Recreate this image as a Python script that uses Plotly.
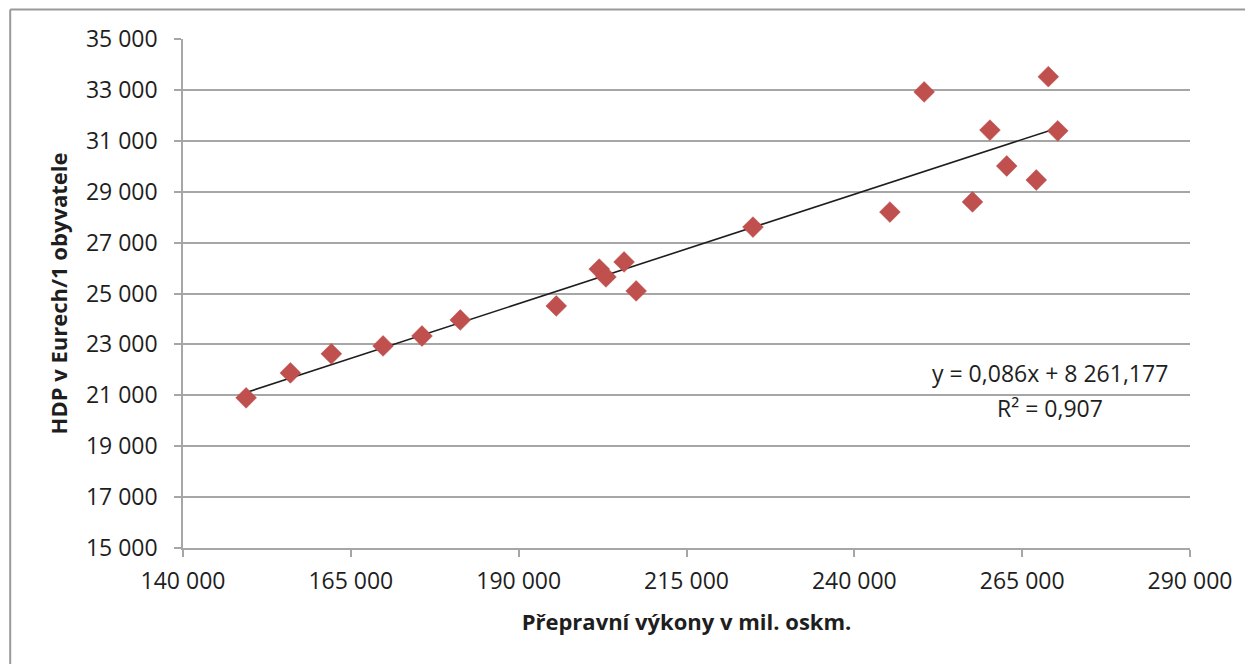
import numpy as np
import plotly.graph_objects as go

# transport performance (mil. oskm) vs GDP per capita
vykony = [149400, 156000, 162100, 169800, 175600, 181300, 195600, 202000, 203000,
          205700, 207500, 224900, 245300, 250400, 257600, 260200, 262700, 267100,
          268900, 270300]
hdp = [20900, 21880, 22630, 22940, 23330, 23960, 24510, 25960, 25650,
       26240, 25100, 27610, 28200, 32920, 28600, 31420, 30010, 29460,
       33520, 31390]

# linear trend from the chart label
slope = 0.086
intercept = 8261.177
r2 = 0.907

x_ticks = [140000, 165000, 190000, 215000, 240000, 265000, 290000]
y_ticks = [15000, 17000, 19000, 21000, 23000, 25000, 27000, 29000, 31000, 33000, 35000]

FONT = 'Open Sans'
GRID = '#A6A6A6'
FS = 23

trend_x = np.array([min(vykony), max(vykony)])
trend_y = slope * trend_x + intercept

fig = go.Figure()
fig.add_trace(go.Scatter(
    x=trend_x, y=trend_y, mode='lines',
    line=dict(color='#1E1E1E', width=1.6),
    showlegend=False, hoverinfo='skip'
))
fig.add_trace(go.Scatter(
    x=vykony, y=hdp, mode='markers',
    marker=dict(symbol='diamond', size=16, color='#C0504D',
                line=dict(color='#B8474A', width=0.5)),
    showlegend=False
))

# page has an 8px body margin, so the figure is shifted by 8px
fig.update_layout(
    width=1245, height=656,
    margin=dict(l=174.5, r=62.5, t=31, b=116),
    plot_bgcolor='#FFFFFF',
    paper_bgcolor='#FFFFFF',
    separators=', ',
    font=dict(family=FONT, size=FS, color='#1E1E1E'),
)
fig.update_xaxes(
    range=[140000, 290000], tickvals=x_ticks, tickformat=',.0f',
    showgrid=False, zeroline=False,
    showline=True, linecolor=GRID, linewidth=1.5,
    ticks='outside', ticklen=7, tickcolor=GRID, tickwidth=1.5,
    ticklabelstandoff=5,
    tickfont=dict(family=FONT, size=FS, color='#1E1E1E'),
    title=dict(text='<b>Přepravní výkony v mil. oskm.</b>', standoff=19,
               font=dict(family=FONT, size=22, color='#1E1E1E')),
)
fig.update_yaxes(
    range=[15000, 35000], tickvals=y_ticks, tickformat=',.0f',
    showgrid=True, gridcolor=GRID, gridwidth=1.5, zeroline=False,
    showline=True, linecolor=GRID, linewidth=1.5,
    ticks='outside', ticklen=7, tickcolor=GRID, tickwidth=1.5,
    ticklabelstandoff=12,
    tickfont=dict(family=FONT, size=FS, color='#1E1E1E'),
    title=dict(text='<b>HDP v Eurech/1 obyvatele</b>', standoff=12,
               font=dict(family=FONT, size=22, color='#1E1E1E')),
)

# trend equation label
fig.add_annotation(x=0.861, y=0.344, xref='paper', yref='paper', showarrow=False,
                   xanchor='center', yanchor='middle',
                   text='y = 0,086x + 8 261,177', font=dict(family=FONT, size=FS))
fig.add_annotation(x=0.861, y=0.275, xref='paper', yref='paper', showarrow=False,
                   xanchor='center', yanchor='middle',
                   text='R² = ' + f'{r2:.3f}'.replace('.', ','), font=dict(family=FONT, size=FS))

# chart frame (only top/left visible in the crop)
fig.add_shape(type='line', xref='paper', yref='paper', x0=-0.1716, x1=1.08, y0=1.058, y1=1.058,
              line=dict(color='#9A9A9A', width=2))
fig.add_shape(type='line', xref='paper', yref='paper', x0=-0.1716, x1=-0.1716, y0=1.058, y1=-0.25,
              line=dict(color='#9A9A9A', width=2))

fig.write_html('out.html')
